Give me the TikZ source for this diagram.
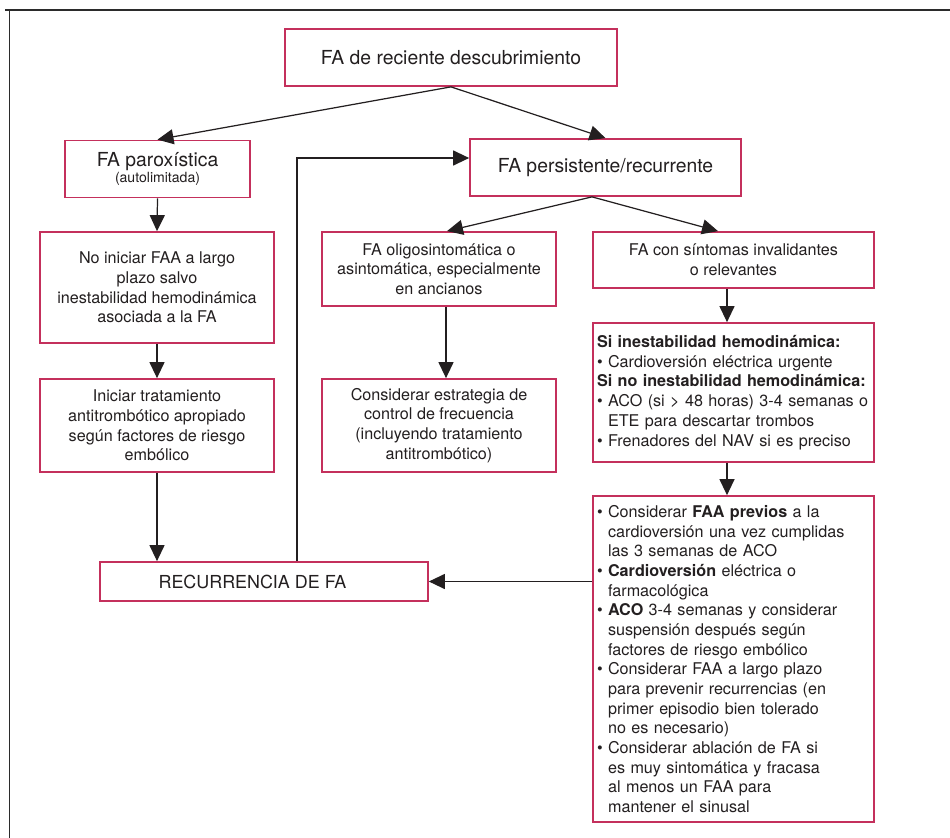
\documentclass[tikz,border=0pt]{standalone}
\usepackage{fontspec}
\setmainfont{TeX Gyre Heros}
\usetikzlibrary{arrows.meta,positioning}
\definecolor{borde}{HTML}{C4305C}
\definecolor{tinta}{HTML}{231F20}
\definecolor{marco}{HTML}{2B2B2B}
\newcommand{\pto}{\textbullet\ }
\newcommand{\sgr}{\phantom{\textbullet\ }}

\begin{document}
\begin{tikzpicture}[x=0.02cm,y=-0.02cm,
  caja/.style={draw=borde,line width=1pt,fill=white,text=tinta,align=center,inner sep=0pt,
    font=\fontsize{9.2}{11.2}\selectfont},
  titulo/.style={caja,font=\fontsize{11}{13}\selectfont},
  lista/.style={caja,align=left,inner xsep=0.08cm},
  flecha/.style={draw=tinta,line width=0.7pt,-{Triangle[length=0.32cm,width=0.3cm]}}]
  \useasboundingbox (0,0) rectangle (950,838);

  % marco (solo arriba y a la izquierda)
  \draw[marco,line width=1.7pt] (5,10) -- (950,10);
  \draw[marco,line width=1.1pt] (9.5,10) -- (9.5,838);

  % primer nivel
  \node[titulo,minimum width=6.64cm,minimum height=1.14cm] (inicio) at (451,57.5) {FA de reciente descubrimiento};
  \node[titulo,minimum width=3.7cm,minimum height=1.14cm] (parox) at (157.5,169)
    {FA paroxística\\[-0.12cm]{\fontsize{8}{9}\selectfont (autolimitada)}};
  \node[titulo,minimum width=5.42cm,minimum height=1.14cm] (persist) at (605.5,167.5) {FA persistente/recurrente};

  % rama paroxistica
  \node[caja,minimum width=4.68cm,minimum height=2.22cm] (noinic) at (157,287.5)
    {No iniciar FAA a largo\\plazo salvo\\inestabilidad hemodinámica\\asociada a la FA};
  \node[caja,minimum width=4.68cm,minimum height=1.86cm] (antitromb) at (157,425.5)
    {Iniciar tratamiento\\antitrombótico apropiado\\según factores de riesgo\\embólico};

  % rama persistente
  \node[caja,minimum width=4.68cm,minimum height=1.48cm] (oligo) at (439,269)
    {FA oligosintomática o\\asintomática, especialmente\\en ancianos};
  \node[caja,minimum width=4.68cm,minimum height=1.86cm] (frecuencia) at (439,425.5)
    {Considerar estrategia de\\control de frecuencia\\(incluyendo tratamiento\\antitrombótico)};
  \node[caja,minimum width=5.62cm,minimum height=1.12cm] (sintomas) at (733.5,260)
    {FA con síntomas invalidantes\\o relevantes};
  \node[lista,text width=5.46cm,minimum height=2.78cm] (inestab) at (733.5,392.5)
    {\textbf{Si inestabilidad hemodinámica:}\\
     \pto Cardioversión eléctrica urgente\\
     \textbf{Si no inestabilidad hemodinámica:}\\
     \mbox{\pto ACO (si > 48 horas) 3-4 semanas o}\\
     \sgr ETE para descartar trombos\\
     \pto Frenadores del NAV si es preciso};
  \node[lista,text width=5.46cm,minimum height=6.52cm] (cardiov) at (733.5,659)
    {\pto Considerar \textbf{FAA previos} a la\\
     \sgr cardioversión una vez cumplidas\\
     \sgr las 3 semanas de ACO\\
     \pto \textbf{Cardioversión} eléctrica o\\
     \sgr farmacológica\\
     \pto \textbf{ACO} 3-4 semanas y considerar\\
     \sgr suspensión después según\\
     \sgr factores de riesgo embólico\\
     \pto Considerar FAA a largo plazo\\
     \sgr para prevenir recurrencias (en\\
     \sgr primer episodio bien tolerado\\
     \sgr no es necesario)\\
     \pto Considerar ablación de FA si\\
     \sgr es muy sintomática y fracasa\\
     \sgr al menos un FAA para\\
     \sgr mantener el sinusal};

  \node[titulo,font=\fontsize{10.2}{12}\selectfont,minimum width=6.56cm,minimum height=0.78cm] (recurr) at (264,581.5)
    {RECURRENCIA DE FA\hspace*{0.46cm}};

  % conectores
  \draw[flecha] (inicio.south) -- (parox.north);
  \draw[flecha] (inicio.south) -- (persist.north);
  \draw[flecha] (parox.south) -- (noinic.north);
  \draw[flecha] (noinic.south) -- (antitromb.north);
  \draw[flecha] (antitromb.south) -- (antitromb.south |- recurr.north);
  \draw[flecha] ([xshift=-0.27cm]persist.south) -- ([xshift=0.16cm]oligo.north);
  \draw[flecha] ([xshift=-0.27cm]persist.south) -- ([xshift=-0.31cm]sintomas.north);
  \draw[flecha] ([xshift=0.14cm]oligo.south) -- ([xshift=0.14cm]frecuencia.north);
  \draw[flecha] ([xshift=-0.13cm]sintomas.south) -- ([xshift=-0.13cm]inestab.north);
  \draw[flecha] ([xshift=-0.13cm]inestab.south) -- ([xshift=-0.13cm]cardiov.north);
  \draw[flecha] (cardiov.west |- recurr.east) -- (recurr.east);

  % vuelta de la recurrencia
  \coordinate (vuelta) at (297,158);
  \draw[flecha] (recurr.north -| vuelta) |- (persist.west |- vuelta);
\end{tikzpicture}
\end{document}
